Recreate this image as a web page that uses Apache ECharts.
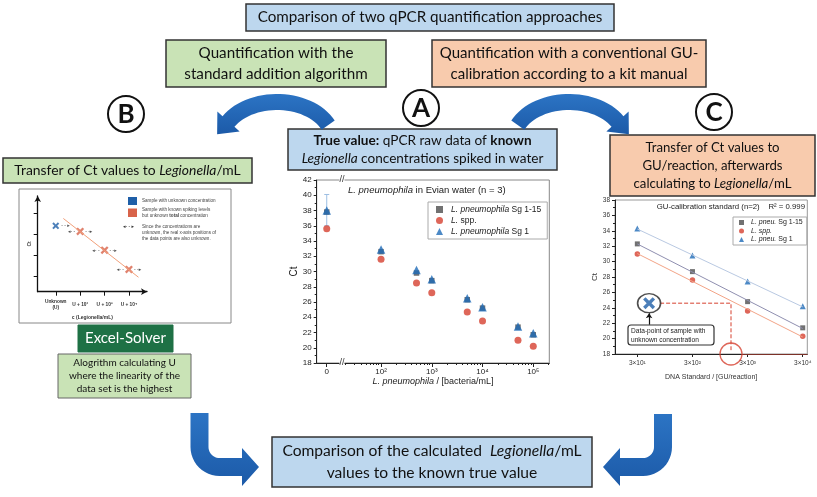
<!DOCTYPE html>
<html>
<head>
<meta charset="utf-8">
<script src="https://cdn.jsdelivr.net/npm/echarts@6/dist/echarts.min.js"></script>
<style>
html, body { margin: 0; padding: 0; background: #fff; }
#main { width: 817px; height: 497px; }
</style>
</head>
<body>
<div id="main"></div>
<script>
// panel A - qPCR raw data of known concentrations
var concA = [0, 100, 500, 1000, 5000, 10000, 50000, 100000];
var ctSg115A = [37.8, 32.6, 29.8, 28.8, 26.3, 25.2, 22.7, 21.7];
var ctSppA = [35.6, 31.6, 28.5, 27.2, 24.7, 23.5, 21.0, 20.2];
var ctSg1A = [38.0, 32.9, 30.2, 29.0, 26.5, 25.3, 22.8, 21.9];
var errSg1A = [[0, 36.0, 40.1]];
var tickConcA = [0, 100, 1000, 10000, 100000];
var tickLabelA = ['0', '10²', '10³', '10⁴', '10⁵'];

// panel C - GU calibration
var concC = [30, 300, 3000, 30000];
var ctSg115C = [32.3, 28.7, 24.8, 21.4];
var ctSppC = [31.0, 27.6, 23.6, 20.3];
var ctSg1C = [34.3, 30.8, 27.4, 24.2];
var tickLabelC = ['3×10¹', '3×10²', '3×10³', '3×10⁴'];
var unknownC = [49, 24.6];
var readOffC = 1500;

// panel B - standard addition sketch
var catB = ['Unknown\n(U)', 'U + 10²', 'U + 10³', 'U + 10⁴'];
var sampleB = [[1, 3.38]];
var spikedB = [[2, 3.11], [3, 2.22], [4, 1.30]];
var fitB = [[1.31, 3.73], [4.39, 0.93]];

var FONT = "'Liberation Sans', 'DejaVu Sans', sans-serif";
var BOXFONT = "Lato, 'Open Sans', sans-serif";
var SQ = '#4d4d4d', RED = '#d6402f', BLUE = '#1f6cb8';
var XSYM = 'path://M2,0L5,3L8,0L10,2L7,5L10,8L8,10L5,7L2,10L0,8L3,5L0,2Z';

var ZERO_A = 0.93, A_MIN = 0.732, A_MAX = 5.316;
var C_MIN = 1.072, C_MAX = 4.56;
function posA(c) { return c === 0 ? ZERO_A : Math.log10(c); }
function lg(c) { return Math.log10(c); }

function pairs(xs, ys, fx) {
  return xs.map(function (x, i) { return [fx(x), ys[i]]; });
}
function fitLine(xs, ys) {
  var lx = xs.map(lg), n = lx.length;
  var mx = lx.reduce(function (a, b) { return a + b; }) / n;
  var my = ys.reduce(function (a, b) { return a + b; }) / n;
  var sxy = 0, sxx = 0;
  for (var i = 0; i < n; i++) { sxy += (lx[i] - mx) * (ys[i] - my); sxx += (lx[i] - mx) * (lx[i] - mx); }
  var b = sxy / sxx, a = my - b * mx;
  return [[lx[0], a + b * lx[0]], [lx[n - 1], a + b * lx[n - 1]]];
}

var tickPosA = tickConcA.map(posA);
var minorA = [];
[1, 2, 3, 4, 5].forEach(function (k) {
  for (var m = 2; m <= 9; m++) {
    var v = Math.log10(m * Math.pow(10, k));
    if (v > 1.25 && v < A_MAX) minorA.push(v);
  }
});
var tickPosC = concC.map(lg);

// band shaped arrows for the flow chart
function bandArrow(pts, w, headLen, headW) {
  var n = pts.length, left = [], right = [];
  for (var i = 0; i < n; i++) {
    var p0 = pts[Math.max(i - 1, 0)], p1 = pts[Math.min(i + 1, n - 1)];
    var dx = p1[0] - p0[0], dy = p1[1] - p0[1], L = Math.hypot(dx, dy);
    var nx = -dy / L, ny = dx / L;
    left.push([pts[i][0] + nx * w / 2, pts[i][1] + ny * w / 2]);
    right.push([pts[i][0] - nx * w / 2, pts[i][1] - ny * w / 2]);
  }
  var pe = pts[n - 1], pp = pts[n - 2];
  var ex = pe[0] - pp[0], ey = pe[1] - pp[1], EL = Math.hypot(ex, ey);
  ex /= EL; ey /= EL;
  var head = [[pe[0] - ey * headW, pe[1] + ex * headW], [pe[0] + ex * headLen, pe[1] + ey * headLen], [pe[0] + ey * headW, pe[1] - ex * headW]];
  return left.concat(head, right.reverse());
}
function arcPts(cx, cy, rx, ry, a0, a1) {
  var pts = [];
  for (var i = 0; i <= 30; i++) {
    var t = (a0 + (a1 - a0) * i / 30) * Math.PI / 180;
    pts.push([cx + rx * Math.cos(t), cy + ry * Math.sin(t)]);
  }
  return pts;
}
function elbowPts(x, y0, y1, r, dir, x1) {
  var pts = [[x, y0]], cx = x + dir * r;
  for (var i = 0; i <= 12; i++) {
    var t = Math.PI / 2 * i / 12;
    pts.push([cx - dir * r * Math.cos(t), y1 + r * Math.sin(t)]);
  }
  pts.push([x1, y1 + r]);
  return pts;
}

function box(x, y, w, h, fill, stroke, lw) {
  return { type: 'rect', shape: { x: x, y: y, width: w, height: h }, style: { fill: fill, stroke: stroke, lineWidth: lw } };
}
function txt(x, y, text, size, extra) {
  var lh = size * 1.38;
  var st = { text: text, fill: '#111', fontSize: size, fontFamily: BOXFONT, align: 'center', verticalAlign: 'middle', lineHeight: lh };
  st.rich = {
    b: { fontWeight: 'bold', fontSize: size, fontFamily: BOXFONT, lineHeight: lh },
    i: { fontStyle: 'italic', fontSize: size, fontFamily: BOXFONT, lineHeight: lh }
  };
  for (var k in extra || {}) st[k] = extra[k];
  return { type: 'text', x: x, y: y, z: 10, style: st };
}
function letter(cx, cy, ch) {
  return [
    { type: 'circle', shape: { cx: cx, cy: cy, r: 18 }, style: { fill: '#fff', stroke: '#111', lineWidth: 2 } },
    { type: 'text', x: cx, y: cy + 1, style: { text: ch, fontSize: 26, fontWeight: 'bold', fontFamily: BOXFONT, fill: '#111', align: 'center', verticalAlign: 'middle' } }
  ];
}

var ARROW = new echarts.graphic.LinearGradient(0, 0, 0, 1, [
  { offset: 0, color: '#2c74c4' }, { offset: 1, color: '#1c5aa8' }
]);
var graphics = [
  box(246, 4, 368, 27, '#bdd7ee', '#333', 1.5),
  txt(430, 17.5, 'Comparison of two qPCR quantification approaches', 15.2),
  box(166, 40, 220, 47, '#c9e3b6', '#333', 1.5),
  txt(276, 63.5, 'Quantification with the\nstandard addition algorithm', 15.2),
  box(432, 40, 274, 47, '#f8cbad', '#333', 1.5),
  txt(569, 63.5, 'Quantification with a conventional GU-\ncalibration according to a kit manual', 15),
  box(288, 129, 269, 41, '#bdd7ee', '#333', 1.5),
  txt(422.5, 149.5, '{b|True value:} qPCR raw data of {b|known}\n{i|Legionella} concentrations spiked in water', 13.6),
  box(610, 135, 205, 61, '#f8cbad', '#333', 1.5),
  txt(712.5, 165.5, 'Transfer of Ct values to\nGU/reaction, afterwards\ncalculating to {i|Legionella}/mL', 13.2),
  box(3, 158, 249, 25, '#c9e3b6', '#333', 1.5),
  txt(127.5, 170.5, 'Transfer of Ct values to {i|Legionella}/mL', 13.9),
  box(19, 189, 212, 134, 'rgba(0,0,0,0)', '#888', 1),
  box(78, 325, 95, 27, '#1e7145', '#1e7145', 1),
  txt(125.5, 338.5, 'Excel-Solver', 15, { fill: '#fff' }),
  box(58, 354, 133, 44, '#c9e3b6', '#666', 1),
  txt(124.5, 376, 'Alogrithm calculating U\nwhere the linearity of the\ndata set is the highest', 10, { lineHeight: 12.8 }),
  box(272, 437, 320, 50, '#bdd7ee', '#333', 1.5),
  txt(432, 462, 'Comparison of the calculated  {i|Legionella}/mL\nvalues to the known true value', 15.6),
  { type: 'polygon', shape: { points: bandArrow(arcPts(277, 141, 56, 39, -24, -150), 16, 17, 15) }, style: { fill: ARROW } },
  { type: 'polygon', shape: { points: bandArrow(arcPts(569, 141, 56, 39, -156, -30), 16, 17, 15) }, style: { fill: ARROW } },
  { type: 'polygon', shape: { points: bandArrow(elbowPts(199.5, 413, 447, 20, 1, 242), 18, 17, 19) }, style: { fill: ARROW } },
  { type: 'polygon', shape: { points: bandArrow(elbowPts(663, 414, 447, 20, -1, 620), 18, 17, 19) }, style: { fill: ARROW } },
  // axis breaks of panel A
  { type: 'text', x: 342, y: 180, z: 50, style: { text: '//', fontSize: 9, fontFamily: FONT, fill: '#333', backgroundColor: '#fff', align: 'center', verticalAlign: 'middle' } },
  { type: 'text', x: 342, y: 363, z: 50, style: { text: '//', fontSize: 9, fontFamily: FONT, fill: '#333', backgroundColor: '#fff', align: 'center', verticalAlign: 'middle' } },
  // callout of panel C
  { type: 'rect', z: 50, shape: { x: 628, y: 325, width: 86, height: 20, r: 3 }, style: { fill: '#fff', stroke: '#333', lineWidth: 1.2 } },
  { type: 'text', x: 631, y: 335.5, z: 51, style: { text: 'Data-point of sample with\nunknown concentration', fontSize: 6.6, lineHeight: 9, fontFamily: FONT, fill: '#222', align: 'left', verticalAlign: 'middle' } },
  // legend of panel B
  { type: 'rect', shape: { x: 128, y: 197, width: 9, height: 8 }, style: { fill: '#1f5fa8' } },
  { type: 'rect', shape: { x: 128, y: 208.5, width: 9, height: 8.5 }, style: { fill: '#d8634a' } },
  { type: 'text', x: 128.5, y: 227, style: { text: '◂- - ▸', fontSize: 5, fontFamily: FONT, fill: '#333', align: 'center', verticalAlign: 'middle' } },
  { type: 'text', x: 142, y: 201, style: { text: 'Sample with unknown concentration', fontSize: 4.6, fontFamily: FONT, fill: '#444', verticalAlign: 'middle' } },
  { type: 'text', x: 142, y: 212.5, style: { text: 'Sample with known spiking levels\nbut unknown {b|total} concentration', fontSize: 4.6, lineHeight: 6.2, fontFamily: FONT, fill: '#444', verticalAlign: 'middle', rich: { b: { fontWeight: 'bold', fontSize: 4.6, lineHeight: 6.2, fontFamily: FONT } } } },
  { type: 'text', x: 142, y: 233, style: { text: 'Since the concentrations are\nunknown, the real x-axis positions of\nthe data points are also unknown.', fontSize: 4.6, lineHeight: 6.2, fontFamily: FONT, fill: '#444', verticalAlign: 'middle' } }
];
graphics = graphics.concat(letter(126, 114, 'B'), letter(421, 108, 'A'), letter(714, 112, 'C'));

var ax = { color: '#222', width: 1 };
var labelFmtA = function (v) {
  for (var i = 0; i < tickPosA.length; i++) if (Math.abs(tickPosA[i] - v) < 1e-6) return tickLabelA[i];
  return '';
};
var labelFmtC = function (v) {
  for (var i = 0; i < tickPosC.length; i++) if (Math.abs(tickPosC[i] - v) < 1e-6) return tickLabelC[i];
  return '';
};
var richI = function (size) { return { i: { fontStyle: 'italic', fontSize: size, fontFamily: FONT, color: '#222' } }; };

var fitSq = fitLine(concC, ctSg115C), fitSp = fitLine(concC, ctSppC), fitTr = fitLine(concC, ctSg1C);

var option = {
  animation: false,
  backgroundColor: '#fff',
  graphic: { elements: graphics },
  title: [
    { text: '{i|L. pneumophila} in Evian water (n = 3)', left: 348, top: 185, padding: 0,
      textStyle: { fontSize: 9.5, fontWeight: 'normal', fontFamily: FONT, color: '#222', rich: richI(9.5) } },
    { text: 'GU-calibration standard (n=2)    R² = 0.999', right: 12, top: 203, padding: 0,
      textStyle: { fontSize: 7.8, fontWeight: 'normal', fontFamily: FONT, color: '#222' } }
  ],
  legend: [
    { data: [{ name: 'a1', icon: 'rect' }, { name: 'a2', icon: 'circle' }, { name: 'a3', icon: 'triangle' }],
      orient: 'vertical', left: 428, top: 202, itemWidth: 7, itemHeight: 7, itemGap: 2,
      padding: [3, 6, 3, 8], borderColor: '#aaa', borderWidth: 1, borderRadius: 0, backgroundColor: '#fff',
      selectedMode: false,
      formatter: function (n) { return { a1: '{i|L. pneumophila} Sg 1-15', a2: '{i|L.} spp.', a3: '{i|L. pneumophila} Sg 1' }[n]; },
      textStyle: { fontSize: 8.5, fontFamily: FONT, color: '#222', padding: [0, 0, 0, 3], rich: richI(8.5) } },
    { data: [{ name: 'c1', icon: 'rect' }, { name: 'c2', icon: 'circle' }, { name: 'c3', icon: 'triangle' }],
      orient: 'vertical', left: 733, top: 217, itemWidth: 5, itemHeight: 5, itemGap: 1.5,
      padding: [2, 4, 2, 6], borderColor: '#aaa', borderWidth: 1, borderRadius: 0, backgroundColor: '#fff',
      selectedMode: false,
      formatter: function (n) { return { c1: '{i|L. pneu.} Sg 1-15', c2: '{i|L. spp.}', c3: '{i|L. pneu.} Sg 1' }[n]; },
      textStyle: { fontSize: 7, fontFamily: FONT, color: '#222', padding: [0, 0, 0, 2], rich: richI(7) } }
  ],
  grid: [
    { left: 316.7, top: 180, width: 232.6, height: 183, show: true, borderColor: '#888', borderWidth: 1, backgroundColor: '#fff', outerBoundsMode: 'none', containLabel: false },
    { left: 615, top: 200, width: 192.3, height: 154, show: true, borderColor: '#999', borderWidth: 1, backgroundColor: '#fff', outerBoundsMode: 'none', containLabel: false },
    { left: 37.7, top: 196, width: 109.3, height: 95.7, show: false, outerBoundsMode: 'none', containLabel: false }
  ],
  xAxis: [
    { gridIndex: 0, type: 'value', min: A_MIN, max: A_MAX, position: 'bottom',
      axisLine: { onZero: false, lineStyle: ax },
      axisTick: { customValues: tickPosA, length: 4, lineStyle: ax },
      axisLabel: { customValues: tickPosA, formatter: labelFmtA, fontSize: 8, fontFamily: FONT, color: '#222', margin: 5 },
      splitLine: { show: false },
      name: '{i|L. pneumophila} / [bacteria/mL]', nameLocation: 'middle', nameGap: 14,
      nameTextStyle: { fontSize: 9, fontFamily: FONT, color: '#222', rich: richI(9) } },
    { gridIndex: 0, type: 'value', min: A_MIN, max: A_MAX, position: 'bottom',
      axisLine: { show: false },
      axisTick: { customValues: minorA, length: 2, lineStyle: ax },
      axisLabel: { show: false }, splitLine: { show: false } },
    { gridIndex: 1, type: 'value', min: C_MIN, max: C_MAX, position: 'bottom',
      axisLine: { onZero: false, lineStyle: ax },
      axisTick: { customValues: tickPosC, length: 3, lineStyle: ax },
      axisLabel: { customValues: tickPosC, formatter: labelFmtC, fontSize: 6.5, fontFamily: FONT, color: '#333', margin: 6 },
      splitLine: { show: false },
      name: 'DNA Standard / [GU/reaction]', nameLocation: 'middle', nameGap: 20,
      nameTextStyle: { fontSize: 7, fontFamily: FONT, color: '#333' } },
    { gridIndex: 2, type: 'value', min: 0.26, max: 4.74,
      axisLine: { onZero: false, symbol: ['none', 'arrow'], symbolSize: [5, 6], lineStyle: { color: '#111', width: 1.3 } },
      axisTick: { customValues: [1, 2, 3, 4], length: 4, lineStyle: { color: '#111', width: 1 } },
      axisLabel: { customValues: [1, 2, 3, 4], formatter: function (v) { return catB[Math.round(v) - 1]; },
        fontSize: 4.8, fontWeight: 'bold', lineHeight: 6, fontFamily: FONT, color: '#333', margin: 13, verticalAlign: 'middle' },
      splitLine: { show: false },
      name: 'c (Legionella/mL)', nameLocation: 'middle', nameGap: 23,
      nameTextStyle: { fontSize: 5, fontWeight: 'bold', fontFamily: FONT, color: '#333' } }
  ],
  yAxis: [
    { gridIndex: 0, type: 'value', min: 18, max: 42, interval: 2,
      axisLine: { show: true, onZero: false, lineStyle: ax },
      axisTick: { show: true, length: 3, lineStyle: ax },
      minorTick: { show: true, splitNumber: 2, length: 2, lineStyle: ax },
      axisLabel: { fontSize: 8, fontFamily: FONT, color: '#222', margin: 5 },
      splitLine: { show: false },
      name: 'Ct', nameLocation: 'middle', nameGap: 13,
      nameTextStyle: { fontSize: 10, fontFamily: FONT, color: '#222' } },
    { gridIndex: 1, type: 'value', min: 18, max: 38, interval: 2,
      axisLine: { show: true, onZero: false, lineStyle: ax },
      axisTick: { show: true, length: 3, lineStyle: ax },
      minorTick: { show: true, splitNumber: 2, length: 2, lineStyle: ax },
      axisLabel: { fontSize: 6.5, fontFamily: FONT, color: '#333', margin: 5 },
      splitLine: { show: false },
      name: 'Ct', nameLocation: 'middle', nameGap: 15,
      nameTextStyle: { fontSize: 8, fontFamily: FONT, color: '#333' } },
    { gridIndex: 2, type: 'value', min: 0.24, max: 4.8,
      axisLine: { show: true, onZero: false, symbol: ['none', 'arrow'], symbolSize: [5, 6], lineStyle: { color: '#111', width: 1.3 } },
      axisTick: { show: true, customValues: [1, 2, 3, 4], length: 4, lineStyle: { color: '#111', width: 1 } },
      axisLabel: { show: false }, splitLine: { show: false },
      name: 'Ct', nameLocation: 'middle', nameGap: 6,
      nameTextStyle: { fontSize: 5, fontWeight: 'bold', fontFamily: FONT, color: '#333' } }
  ],
  series: [
    // panel A
    { type: 'custom', xAxisIndex: 0, yAxisIndex: 0, silent: true, z: 1,
      data: errSg1A.map(function (d) { return [posA(d[0]), d[1], d[2]]; }),
      encode: { x: 0, y: [1, 2] },
      renderItem: function (params, api) {
        var top = api.coord([api.value(0), api.value(2)]), bot = api.coord([api.value(0), api.value(1)]);
        var st = { stroke: '#9dbfe3', lineWidth: 1 };
        return { type: 'group', children: [
          { type: 'line', shape: { x1: top[0], y1: top[1], x2: bot[0], y2: bot[1] }, style: st },
          { type: 'line', shape: { x1: top[0] - 2.5, y1: top[1], x2: top[0] + 2.5, y2: top[1] }, style: st },
          { type: 'line', shape: { x1: bot[0] - 2.5, y1: bot[1], x2: bot[0] + 2.5, y2: bot[1] }, style: st }
        ] };
      } },
    { name: 'a1', type: 'scatter', xAxisIndex: 0, yAxisIndex: 0, symbol: 'rect', symbolSize: 5.5, itemStyle: { color: SQ }, data: pairs(concA, ctSg115A, posA) },
    { name: 'a2', type: 'scatter', xAxisIndex: 0, yAxisIndex: 0, symbol: 'circle', symbolSize: 7, itemStyle: { color: RED }, data: pairs(concA, ctSppA, posA) },
    { name: 'a3', type: 'scatter', xAxisIndex: 0, yAxisIndex: 0, symbol: 'triangle', symbolSize: 8.5, itemStyle: { color: BLUE }, data: pairs(concA, ctSg1A, posA) },
    // panel C
    { type: 'line', xAxisIndex: 2, yAxisIndex: 1, silent: true, symbol: 'none', lineStyle: { color: '#8f8fb0', width: 1 }, data: fitSq },
    { type: 'line', xAxisIndex: 2, yAxisIndex: 1, silent: true, symbol: 'none', lineStyle: { color: '#f3a487', width: 1 }, data: fitSp },
    { type: 'line', xAxisIndex: 2, yAxisIndex: 1, silent: true, symbol: 'none', lineStyle: { color: '#b9c9e2', width: 1 }, data: fitTr },
    { name: 'c1', type: 'scatter', xAxisIndex: 2, yAxisIndex: 1, symbol: 'rect', symbolSize: 5, itemStyle: { color: SQ }, data: pairs(concC, ctSg115C, lg) },
    { name: 'c2', type: 'scatter', xAxisIndex: 2, yAxisIndex: 1, symbol: 'circle', symbolSize: 5.5, itemStyle: { color: RED }, data: pairs(concC, ctSppC, lg) },
    { name: 'c3', type: 'scatter', xAxisIndex: 2, yAxisIndex: 1, symbol: 'triangle', symbolSize: 6, itemStyle: { color: BLUE }, data: pairs(concC, ctSg1C, lg) },
    { type: 'lines', coordinateSystem: 'cartesian2d', xAxisIndex: 2, yAxisIndex: 1, polyline: true, silent: true, z: 5,
      symbol: ['none', 'arrow'], symbolSize: 5,
      lineStyle: { color: RED, width: 1, type: 'dashed', opacity: 1 },
      data: [{ coords: [[lg(unknownC[0]) + 0.2, unknownC[1]], [lg(readOffC), unknownC[1]], [lg(readOffC), 18.5]] }] },
    { type: 'lines', coordinateSystem: 'cartesian2d', xAxisIndex: 2, yAxisIndex: 1, silent: true, z: 5,
      symbol: 'none', lineStyle: { color: RED, width: 1, opacity: 1 },
      data: [{ coords: [[lg(readOffC) + 0.2, 18], [C_MAX, 18]] }] },
    { type: 'lines', coordinateSystem: 'cartesian2d', xAxisIndex: 2, yAxisIndex: 1, silent: true, z: 5,
      symbol: ['none', 'arrow'], symbolSize: 5, lineStyle: { color: '#111', width: 1.2, opacity: 1 },
      data: [{ coords: [[lg(unknownC[0]), 21.8], [lg(unknownC[0]), 23.3]] }] },
    { type: 'scatter', xAxisIndex: 2, yAxisIndex: 1, silent: true, z: 6, symbol: 'circle', symbolSize: [23, 19],
      itemStyle: { color: '#fff', borderColor: '#222', borderWidth: 1.5 }, data: [[lg(unknownC[0]), unknownC[1]]] },
    { type: 'scatter', xAxisIndex: 2, yAxisIndex: 1, silent: true, z: 7, symbol: XSYM, symbolSize: 12,
      itemStyle: { color: '#1f5fa8' }, data: [[lg(unknownC[0]), unknownC[1]]] },
    { type: 'scatter', xAxisIndex: 2, yAxisIndex: 1, silent: true, z: 6, clip: false, symbol: 'circle', symbolSize: 22,
      itemStyle: { color: 'rgba(0,0,0,0)', borderColor: RED, borderWidth: 1.3 }, data: [[lg(readOffC), 18]] },
    // panel B
    { type: 'line', xAxisIndex: 3, yAxisIndex: 2, silent: true, symbol: 'none', lineStyle: { color: '#f2a07a', width: 1 }, data: fitB },
    { type: 'scatter', xAxisIndex: 3, yAxisIndex: 2, silent: true, symbol: XSYM, symbolSize: 7, itemStyle: { color: '#1f5fa8' },
      label: { show: true, position: 'right', distance: 2, formatter: '- - ▸', fontSize: 5, fontFamily: FONT, color: '#222' },
      data: sampleB },
    { type: 'scatter', xAxisIndex: 3, yAxisIndex: 2, silent: true, symbol: XSYM, symbolSize: 8, itemStyle: { color: '#d8634a' },
      label: { show: true, position: 'inside', formatter: '{a|◂- -}{g|}{a|- -▸}', color: '#222',
        rich: { a: { fontSize: 5, fontFamily: FONT, color: '#222' }, g: { width: 10 } } },
      data: spikedB }
  ]
};

var chart = echarts.init(document.getElementById('main'), null, { renderer: 'canvas' });
chart.setOption(option);
</script>
</body>
</html>
